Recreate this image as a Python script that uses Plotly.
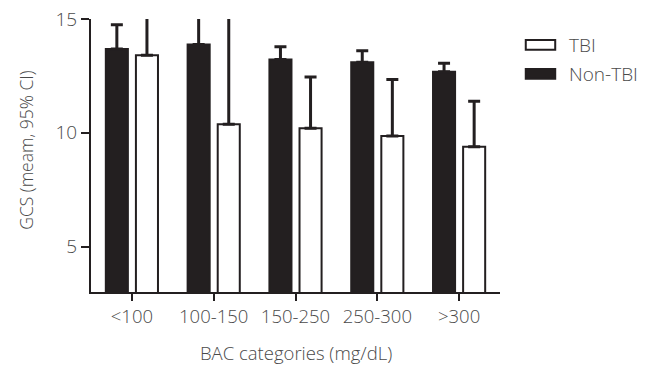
import plotly.graph_objects as go

categories = ["<100", "100-150", "150-250", "250-300", ">300"]
series_names = ["Non-TBI", "TBI"]
non_tbi_mean = [13.68, 13.88, 13.22, 13.10, 12.68]
non_tbi_upper = [14.75, 16.5, 13.78, 13.60, 13.06]
tbi_mean = [13.41, 10.37, 10.20, 9.86, 9.38]
tbi_upper = [17.5, 18.0, 12.45, 12.34, 11.39]
y_ticks = [5, 10, 15]
x_title = "BAC categories (mg/dL)"
y_title = "GCS (meam, 95% CI)"

INK = "#231f20"
TXT = "#4a4a4a"
FONT = "Open Sans"
FS = 19

def plus(mean, upper):
    return [u - m for m, u in zip(mean, upper)]

def tf(size=FS):
    return dict(family=FONT, size=size, color=TXT, weight=300)

fig = go.Figure()
fig.add_trace(go.Bar(
    x=categories, y=non_tbi_mean, name=series_names[0],
    marker=dict(color=INK, line=dict(color=INK, width=2)),
    error_y=dict(type="data", symmetric=False, array=plus(non_tbi_mean, non_tbi_upper),
                 arrayminus=[0] * 5, color=INK, thickness=3, width=6),
    showlegend=False,
))
fig.add_trace(go.Bar(
    x=categories, y=tbi_mean, name=series_names[1],
    marker=dict(color="white", line=dict(color=INK, width=2)),
    error_y=dict(type="data", symmetric=False, array=plus(tbi_mean, tbi_upper),
                 arrayminus=[0] * 5, color=INK, thickness=3, width=6),
    showlegend=False,
))

# custom legend (paper coords)
legend_items = [(series_names[1], "white"), (series_names[0], INK)]
for i, (name, fill) in enumerate(legend_items):
    yc = 0.905 - i * 0.106
    fig.add_shape(type="rect", xref="paper", yref="paper",
                  x0=1.063, x1=1.135, y0=yc - 0.018, y1=yc + 0.018,
                  fillcolor=fill, line=dict(color=INK, width=2))
    fig.add_annotation(xref="paper", yref="paper", x=1.163, y=yc, text=name,
                       showarrow=False, xanchor="left", yanchor="middle",
                       font=tf())

# axis titles
fig.add_annotation(xref="paper", yref="paper", x=0.5, y=-0.222, text=x_title,
                   showarrow=False, xanchor="center", yanchor="middle", font=tf(18.5))
fig.add_annotation(xref="paper", yref="paper", x=-0.161, y=0.518, text=y_title,
                   showarrow=False, xanchor="center", yanchor="middle",
                   textangle=-90, font=tf(17.5))

fig.update_layout(
    width=651, height=365,
    margin=dict(l=91, r=151, t=19, b=73, autoexpand=False),
    paper_bgcolor="white", plot_bgcolor="white",
    barmode="group", bargap=0.264, bargroupgap=0.267,
    font=tf(),
    xaxis=dict(
        automargin=False,
        showline=True, linecolor=INK, linewidth=2,
        ticks="outside", ticklen=7, tickwidth=2, tickcolor=INK,
        showgrid=False, zeroline=False, tickfont=tf(18.5),
    ),
    yaxis=dict(
        automargin=False,
        range=[3, 15], tickvals=y_ticks,
        showline=True, linecolor=INK, linewidth=2,
        ticks="outside", ticklen=8, tickwidth=2, tickcolor=INK,
        showgrid=False, zeroline=False, tickfont=tf(),
    ),
)

fig.write_html(
    "out.html",
    config={"displayModeBar": False},
    post_script="document.body.style.margin='0';document.body.style.overflow='hidden';",
)
